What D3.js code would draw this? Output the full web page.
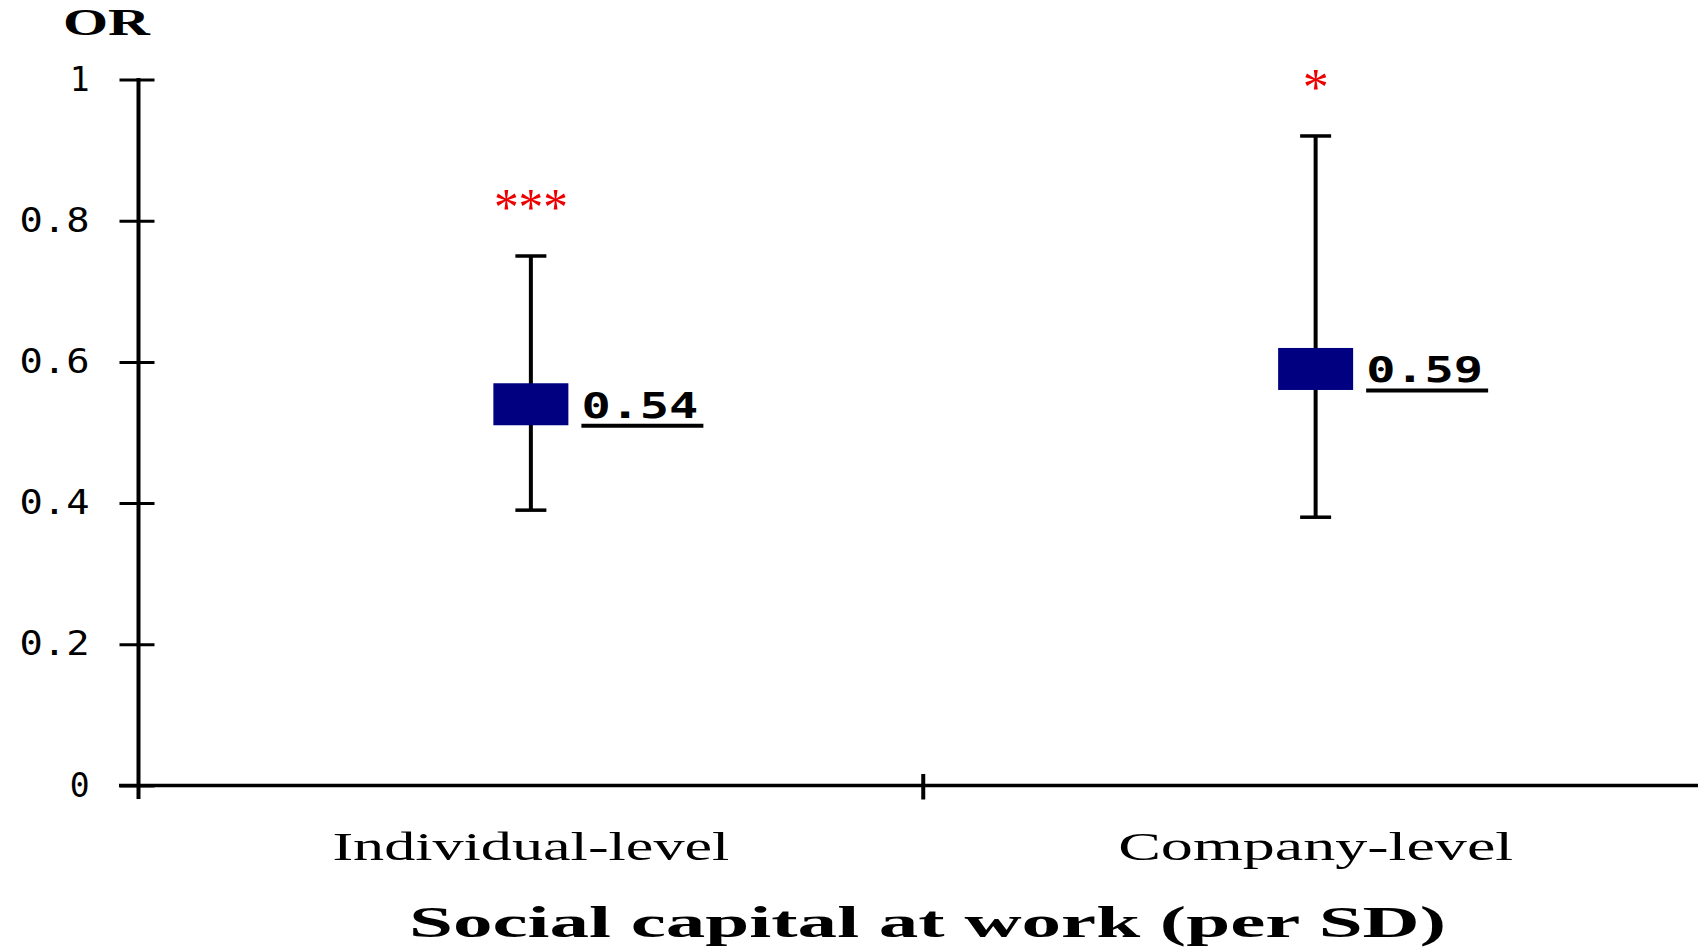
<!DOCTYPE html>
<html>
<head>
<meta charset="utf-8">
<script src="https://cdn.jsdelivr.net/npm/d3@7"></script>
<style>
  html, body { margin: 0; padding: 0; background: #ffffff; }
  svg { display: block; }
</style>
</head>
<body>
<script>
// Odds ratios (per SD of social capital at work) with 95% confidence limits
const categories   = ["Individual-level", "Company-level"];
const oddsRatios   = [0.54, 0.59];
const ciLower      = [0.39, 0.38];
const ciUpper      = [0.75, 0.92];
const significance = ["***", "*"];
const yTickValues  = [0, 0.2, 0.4, 0.6, 0.8, 1];
const yTickLabels  = ["0", "0.2", "0.4", "0.6", "0.8", "1"];

const W = 1698, H = 947;
const svg = d3.select("body").append("svg")
  .attr("width", W).attr("height", H)
  .style("background", "#ffffff");

const y = d3.scaleLinear().domain([0, 1]).range([785.5, 79.5]);
const x = d3.scaleBand().domain(categories).range([138.5, 1708]).paddingInner(0).paddingOuter(0);
const cx = c => x(c) + x.bandwidth() / 2;

const rows = categories.map((c, i) => ({
  cat: c, or: oddsRatios[i], lo: ciLower[i], hi: ciUpper[i], sig: significance[i]
}));

// ---- y axis ----
const yAxis = d3.axisLeft(y)
  .tickValues(yTickValues)
  .tickFormat((d, i) => yTickLabels[i])
  .tickSize(19);

const gy = svg.append("g")
  .attr("transform", `translate(${x.range()[0]},0)`)
  .call(yAxis);
gy.select(".domain").remove();
gy.selectAll(".tick line")
  .attr("x1", 16).attr("x2", -19)
  .attr("stroke", "#000").attr("stroke-width", 3);
gy.selectAll(".tick text")
  .attr("x", -49)
  .attr("fill", "#000")
  .style("font-family", "'DejaVu Sans Mono', monospace")
  .style("font-size", "33px")
  .each(function(d, i) {
    const t = yTickLabels[i];
    if (t.length > 1) d3.select(this).attr("textLength", 70).attr("lengthAdjust", "spacingAndGlyphs");
  });
svg.append("line")
  .attr("x1", x.range()[0]).attr("x2", x.range()[0])
  .attr("y1", y(1) - 1.5).attr("y2", 799)
  .attr("stroke", "#000").attr("stroke-width", 4);

// ---- x axis ----
svg.append("line")
  .attr("x1", 119).attr("x2", x.range()[1])
  .attr("y1", y(0)).attr("y2", y(0))
  .attr("stroke", "#000").attr("stroke-width", 3.5);
// tick marks at the boundaries between categories
const boundaries = categories.slice(1).map(c => x(c));
svg.selectAll(".xtick").data(boundaries).enter().append("line")
  .attr("class", "xtick")
  .attr("x1", d => d).attr("x2", d => d)
  .attr("y1", 774).attr("y2", 799.5)
  .attr("stroke", "#000").attr("stroke-width", 4);

const gx = svg.append("g")
  .attr("transform", `translate(0,${y(0)})`)
  .call(d3.axisBottom(x).tickSize(0));
gx.select(".domain").remove();
gx.selectAll(".tick text")
  .attr("y", 74.5).attr("dy", 0)
  .attr("fill", "#000")
  .style("font-family", "'Liberation Serif', 'Times New Roman', serif")
  .style("font-size", "40px")
  .attr("textLength", d => d === "Individual-level" ? 397 : 395)
  .attr("lengthAdjust", "spacingAndGlyphs");

// ---- titles ----
svg.append("text")
  .attr("x", 63).attr("y", 35)
  .attr("textLength", 87).attr("lengthAdjust", "spacingAndGlyphs")
  .style("font-family", "'Liberation Serif', 'Times New Roman', serif")
  .style("font-size", "37px").style("font-weight", "bold")
  .text("OR");

svg.append("text")
  .attr("x", 409).attr("y", 937)
  .attr("textLength", 1037).attr("lengthAdjust", "spacingAndGlyphs")
  .style("font-family", "'Liberation Serif', 'Times New Roman', serif")
  .style("font-size", "44px").style("font-weight", "bold")
  .text("Social capital at work (per SD)");

// ---- confidence intervals ----
const g = svg.append("g");
const capHalf = 15.5, boxW = 75, boxH = 42;

g.selectAll(".whisker").data(rows).enter().append("line")
  .attr("x1", d => cx(d.cat)).attr("x2", d => cx(d.cat))
  .attr("y1", d => y(d.lo)).attr("y2", d => y(d.hi))
  .attr("stroke", "#000").attr("stroke-width", 4);

["lo", "hi"].forEach(k => {
  g.selectAll(".cap-" + k).data(rows).enter().append("line")
    .attr("x1", d => cx(d.cat) - capHalf).attr("x2", d => cx(d.cat) + capHalf)
    .attr("y1", d => y(d[k])).attr("y2", d => y(d[k]))
    .attr("stroke", "#000").attr("stroke-width", 3.5);
});

// point estimate markers
g.selectAll(".box").data(rows).enter().append("rect")
  .attr("x", d => cx(d.cat) - boxW / 2)
  .attr("y", d => y(d.or) - boxH / 2)
  .attr("width", boxW).attr("height", boxH)
  .attr("fill", "#000080");

// value labels, underlined
g.selectAll(".val").data(rows).enter().append("text")
  .attr("x", d => cx(d.cat) + boxW / 2 + 13)
  .attr("y", d => y(d.or) + 13.5)
  .attr("textLength", 117).attr("lengthAdjust", "spacingAndGlyphs")
  .style("font-family", "'DejaVu Sans Mono', monospace")
  .style("font-size", "36px").style("font-weight", "bold")
  .attr("fill", "#000")
  .text(d => d3.format(".2f")(d.or));
g.selectAll(".uline").data(rows).enter().append("line")
  .attr("x1", d => cx(d.cat) + boxW / 2 + 13)
  .attr("x2", d => cx(d.cat) + boxW / 2 + 13 + 122)
  .attr("y1", d => y(d.or) + 21.5).attr("y2", d => y(d.or) + 21.5)
  .attr("stroke", "#000").attr("stroke-width", 4);

// significance stars above the upper limits
g.selectAll(".sig").data(rows).enter().append("text")
  .attr("x", d => cx(d.cat))
  .attr("y", d => y(d.hi) - 31)
  .attr("text-anchor", "middle")
  .attr("fill", "#ee0000")
  .style("font-family", "'Liberation Serif', 'Times New Roman', serif")
  .style("font-size", "52px")
  .each(function(d) {
    if (d.sig.length > 1) d3.select(this).attr("textLength", 74).attr("lengthAdjust", "spacingAndGlyphs");
  })
  .text(d => d.sig);
</script>
</body>
</html>
